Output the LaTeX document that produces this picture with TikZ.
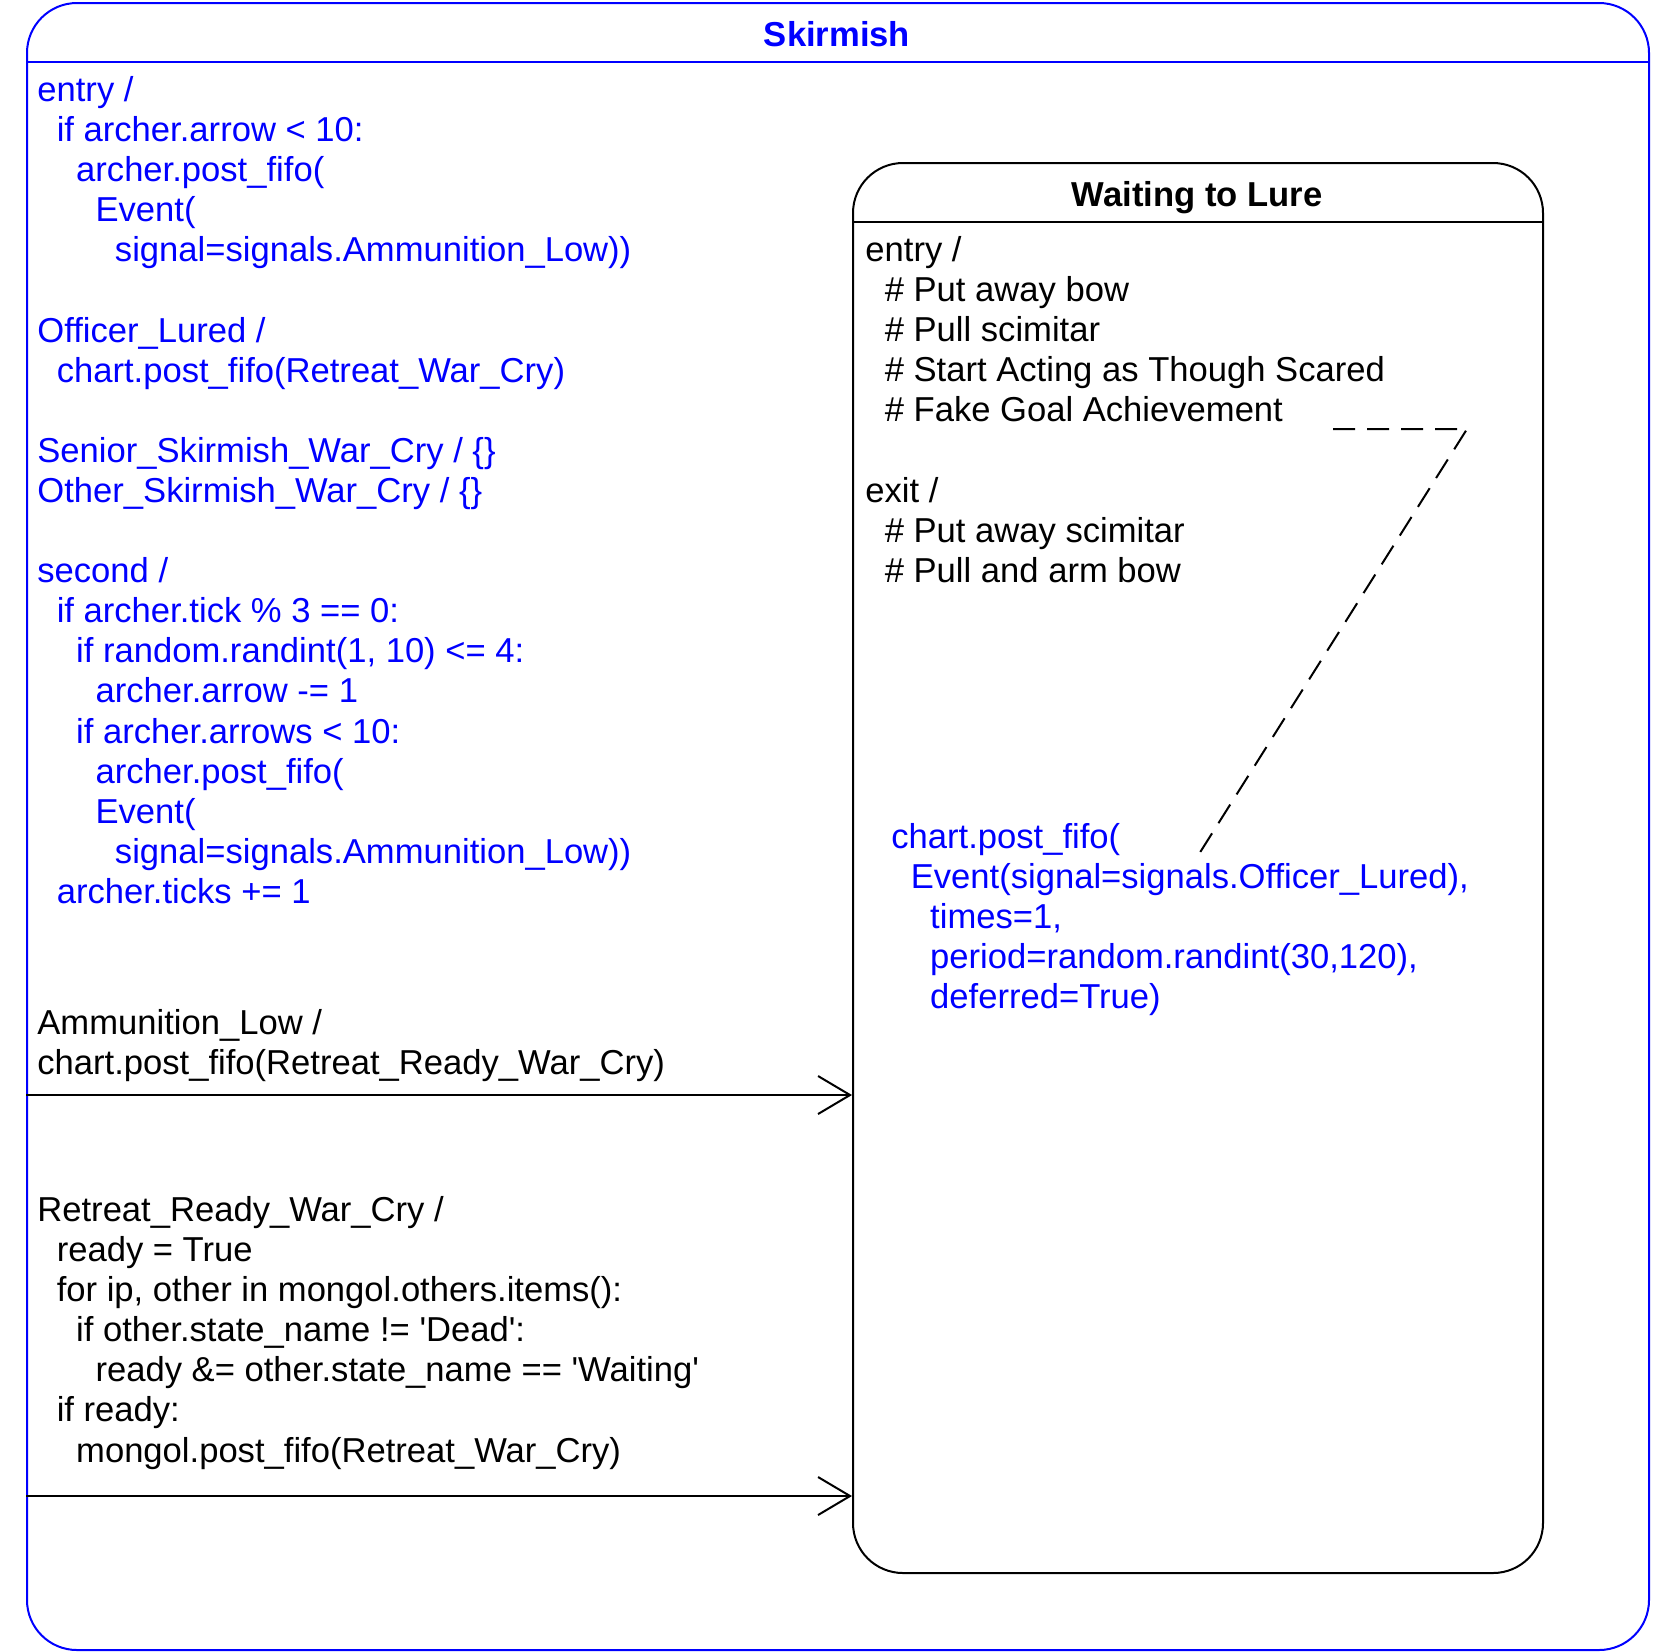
\documentclass[tikz,border=0pt]{standalone}
\usepackage{fontspec}
\setmainfont{Liberation Sans}
\usetikzlibrary{arrows.meta}
\newlength\codestep
\setlength\codestep{9.7pt}
\newcommand{\codeind}[1]{\hspace*{#1\codestep}}

\begin{document}
\begin{tikzpicture}[x=0.5pt, y=-0.5pt,
    statebox/.style={draw, line width=1pt, rounded corners=25pt, anchor=north west, inner sep=0pt},
    codetext/.style={anchor=north west, align=left, inner sep=0pt, font=\fontsize{17.3}{20.05}\selectfont},
    titletext/.style={anchor=base, inner sep=0pt, font=\fontsize{17.3}{20}\selectfont\bfseries},
    transition/.style={line width=1pt, -{Straight Barb[length=16pt, width=19pt]}},
    notelink/.style={line width=1pt, dash pattern=on 11pt off 6pt}]
    \useasboundingbox (0,0) rectangle (1664,1651);

    % outer state
    \node[statebox, draw=blue, minimum width=811pt, minimum height=823.5pt] (skirmish) at (26,2) {};
    \draw[blue, line width=1pt] (skirmish.north west) ++(0,60) -- ++(1622,0);
    \node[titletext, text=blue] (skirmishtitle) at (837,46) {Skirmish};

    \node[codetext, text=blue] (skirmishcode) at (37,73) {\strut entry /\\
        \codeind{1}if archer.arrow < 10:\\
        \codeind{2}archer.post\_fifo(\\
        \codeind{3}Event(\\
        \codeind{4}signal=signals.Ammunition\_Low))\\
        \\
        Officer\_Lured /\\
        \codeind{1}chart.post\_fifo(Retreat\_War\_Cry)\\
        \\
        Senior\_Skirmish\_War\_Cry / \{\}\\
        Other\_Skirmish\_War\_Cry / \{\}\\
        \\
        second /\\
        \codeind{1}if archer.tick \% 3 == 0:\\
        \codeind{2}if random.randint(1, 10) <= 4:\\
        \codeind{3}archer.arrow -= 1\\
        \codeind{2}if archer.arrows < 10:\\
        \codeind{3}archer.post\_fifo(\\
        \codeind{3}Event(\\
        \codeind{4}signal=signals.Ammunition\_Low))\\
        \codeind{1}archer.ticks += 1};

    % inner state
    \node[statebox, minimum width=345pt, minimum height=705pt] (waiting) at (852,162) {};
    \draw[line width=1pt] (waiting.north west) ++(0,60) -- ++(690,0);
    \node[titletext] (waitingtitle) at (1197,206) {Waiting to Lure};

    \node[codetext] (waitingcode) at (865,233) {\strut entry /\\
        \codeind{1}\# Put away bow\\
        \codeind{1}\# Pull scimitar\\
        \codeind{1}\# Start Acting as Though Scared\\
        \codeind{1}\# Fake Goal Achievement\\
        \\
        exit /\\
        \codeind{1}\# Put away scimitar\\
        \codeind{1}\# Pull and arm bow};

    \node[codetext, text=blue] (lurenote) at (891,820) {\strut chart.post\_fifo(\\
        \codeind{1}Event(signal=signals.Officer\_Lured),\\
        \codeind{2}times=1,\\
        \codeind{2}period=random.randint(30,120),\\
        \codeind{2}deferred=True)};

    \coordinate (fakegoal) at (1333,429);
    \coordinate (notebend) at (1467,429);
    \coordinate (notetip) at (1199,854);
    \draw[notelink] (fakegoal) -- (notebend) -- (notetip);

    % transitions
    \node[codetext] (ammolabel) at (37,1006) {\strut Ammunition\_Low /\\
        chart.post\_fifo(Retreat\_Ready\_War\_Cry)};
    \coordinate (ammostart) at (skirmish.west |- 0,1095);
    \draw[transition] (ammostart) -- (ammostart -| waiting.west);

    \node[codetext] (retreatlabel) at (37,1193) {\strut Retreat\_Ready\_War\_Cry /\\
        \codeind{1}ready = True\\
        \codeind{1}for ip, other in mongol.others.items():\\
        \codeind{2}if other.state\_name != \textquotesingle Dead\textquotesingle:\\
        \codeind{3}ready \&= other.state\_name == \textquotesingle Waiting\textquotesingle\\
        \codeind{1}if ready:\\
        \codeind{2}mongol.post\_fifo(Retreat\_War\_Cry)};
    \coordinate (retreatstart) at (skirmish.west |- 0,1496);
    \draw[transition] (retreatstart) -- (retreatstart -| waiting.west);
\end{tikzpicture}
\end{document}
